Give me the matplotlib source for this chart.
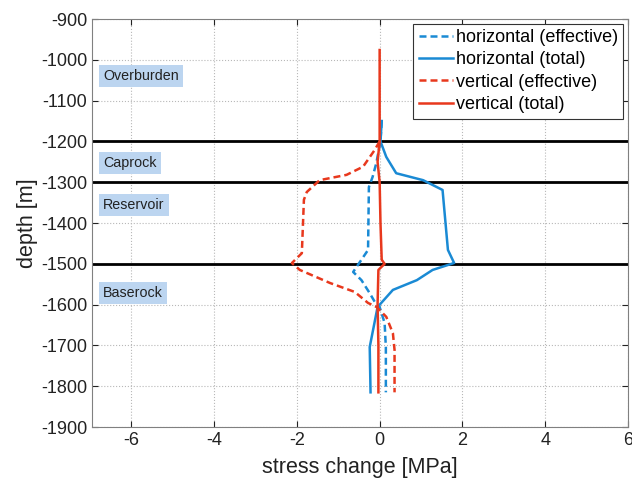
import numpy as np
import matplotlib
matplotlib.use('Agg')
import matplotlib.pyplot as plt

plt.rcParams['font.family'] = ['Liberation Sans', 'DejaVu Sans']
plt.rcParams['axes.unicode_minus'] = False

# stress change profiles [MPa] vs depth [m]
depth_he = [-1150, -1200, -1253, -1287, -1312, -1466, -1490, -1520, -1540,
            -1572, -1600, -1606, -1645, -1704, -1815]
horiz_eff = [0.05, 0.02, -0.08, -0.17, -0.26, -0.28, -0.44, -0.64, -0.44,
             -0.24, -0.08, 0.0, 0.12, 0.15, 0.15]

depth_ht = [-1150, -1200, -1238, -1278, -1295, -1319, -1466, -1498, -1515,
            -1540, -1564, -1606, -1704, -1815]
horiz_tot = [0.05, 0.02, 0.16, 0.4, 1.05, 1.52, 1.65, 1.8, 1.28,
             0.9, 0.32, -0.05, -0.24, -0.22]

depth_ve = [-1200, -1221, -1262, -1282, -1295, -1324, -1343, -1474, -1498,
            -1515, -1547, -1569, -1596, -1606, -1630, -1670, -1711, -1815]
vert_eff = [0.0, -0.12, -0.4, -0.8, -1.45, -1.76, -1.83, -1.88, -2.12,
            -1.93, -1.2, -0.6, -0.28, -0.07, 0.16, 0.32, 0.36, 0.36]

depth_vt = [-976, -1200, -1250, -1300, -1400, -1490, -1500, -1515, -1600,
            -1700, -1815]
vert_tot = [0.0, 0.0, -0.05, 0.0, 0.02, 0.05, 0.12, -0.03, -0.05, -0.03, -0.03]

boundaries = [-1200, -1300, -1500]
layers = ['Overburden', 'Caprock', 'Reservoir', 'Baserock']
layer_depths = [-1040, -1253, -1356, -1572]

blue = '#1a8ad4'
red = '#e8381d'

fig = plt.figure(figsize=(6.32, 4.8), dpi=100)
ax = fig.add_axes([0.1456, 0.1104, 0.848, 0.85])

for b in boundaries:
    ax.axhline(b, color='black', lw=2.0, zorder=2)

ax.plot(horiz_eff, depth_he, color=blue, lw=1.8, dashes=(2.8, 1.6),
        label='horizontal (effective)', zorder=3)
ax.plot(horiz_tot, depth_ht, color=blue, lw=1.8,
        label='horizontal (total)', zorder=3)
ax.plot(vert_eff, depth_ve, color=red, lw=1.8, dashes=(2.8, 1.6),
        label='vertical (effective)', zorder=3)
ax.plot(vert_tot, depth_vt, color=red, lw=1.8,
        label='vertical (total)', zorder=4)

for name, d in zip(layers, layer_depths):
    ax.text(-6.68, d, name, fontsize=10.3, color='#222222', va='center',
            ha='left', zorder=5,
            bbox=dict(boxstyle='square,pad=0.3', fc='#bcd5f0', ec='none'))

ax.set_xlim(-6.95, 6)
ax.set_ylim(-1900, -900)
ax.set_xticks(np.arange(-6, 7, 2))
ax.set_yticks(np.arange(-1900, -899, 100))
ax.grid(True, color='#b8b8b8', ls=':', lw=0.8)
ax.tick_params(direction='in', top=True, right=True, labelsize=13,
               colors='#222222', length=4)
for s in ax.spines.values():
    s.set_color('#808080')

ax.set_xlabel('stress change [MPa]', fontsize=15.5, color='#222222', labelpad=6)
ax.set_ylabel('depth [m]', fontsize=15.5, color='#222222', labelpad=2)

leg = ax.legend(loc='upper right', fontsize=13, handlelength=1.9,
                handletextpad=0.15, labelspacing=0.3, borderpad=0.3,
                borderaxespad=0.25, fancybox=False, framealpha=1)
leg.get_frame().set_edgecolor('#333333')
leg.get_frame().set_linewidth(0.8)

fig.savefig('out.png', dpi=100)
